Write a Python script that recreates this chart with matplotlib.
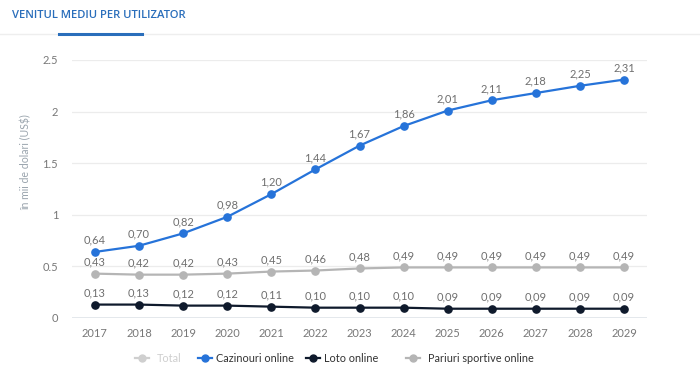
import matplotlib
matplotlib.use("Agg")
import matplotlib.pyplot as plt
from matplotlib.lines import Line2D

years = list(range(2017, 2030))
cazinouri = [0.64, 0.70, 0.82, 0.98, 1.20, 1.44, 1.67, 1.86, 2.01, 2.11, 2.18, 2.25, 2.31]
pariuri = [0.43, 0.42, 0.42, 0.43, 0.45, 0.46, 0.48, 0.49, 0.49, 0.49, 0.49, 0.49, 0.49]
loto = [0.13, 0.13, 0.12, 0.12, 0.11, 0.10, 0.10, 0.10, 0.09, 0.09, 0.09, 0.09, 0.09]
yticks = [0, 0.5, 1, 1.5, 2, 2.5]
ytick_labels = ["0", "0.5", "1", "1.5", "2", "2.5"]
legend_labels = ["Total", "Cazinouri online", "Loto online", "Pariuri sportive online"]

plt.rcParams['font.family'] = ['Lato', 'DejaVu Sans']

BLUE = "#2673d9"
NAVY = "#0f1a2c"
GRAY = "#b5b5b5"
LIGHT = "#cfcfcf"
TXT = "#6f6f6f"

W, H = 700, 380
fig = plt.figure(figsize=(7, 3.8), dpi=100)
ax = fig.add_axes([72 / W, 1 - 318 / H, (647 - 72) / W, (318 - 60) / H])
ax.set_xlim(2016.48, 2029.52)
ax.set_ylim(0, 2.5)

for s in ax.spines.values():
    s.set_visible(False)
for yv in yticks:
    ax.axhline(yv, color="#e2e6ea" if yv == 0 else "#ececec", lw=1.3 if yv == 0 else 0.9, zorder=0)

series = [(pariuri, GRAY), (loto, NAVY), (cazinouri, BLUE)]
for vals, col in series:
    ax.plot(years, vals, color=col, lw=1.6, marker="o", ms=5.2, zorder=3, clip_on=False)
    for x, v in zip(years, vals):
        ax.annotate(f"{v:.2f}".replace(".", ","), (x, v), xytext=(0, 8.5), textcoords="offset points",
                    ha="center", va="center", fontsize=8, color=TXT, zorder=5)

ax.set_xticks(years)
ax.set_xticklabels([str(y) for y in years])
ax.set_yticks(yticks)
ax.set_yticklabels(ytick_labels)
ax.tick_params(axis="both", length=0, labelsize=8, colors="#777777")
ax.tick_params(axis="x", pad=7)
ax.tick_params(axis="y", pad=10)
ax.set_ylabel("în mii de dolari (US$)", fontsize=7.6, color="#9aa4ad")
ax.yaxis.set_label_coords(-(72 - 32) / (647 - 72), (318 - 162) / (318 - 60))

# Title and header line
fig.text(12 / W, 1 - 16 / H, "VENITUL MEDIU PER UTILIZATOR", fontsize=8.1, fontweight="semibold",
         color="#2a6ebb", ha="left", va="center", family=["Open Sans", "DejaVu Sans"])
fig.add_artist(Line2D([0, 1], [1 - 34 / H, 1 - 34 / H], color="#eeeeee", lw=1, transform=fig.transFigure))
fig.add_artist(Line2D([59 / W, 142 / W], [1 - 33.5 / H, 1 - 33.5 / H], color="#2a6ebb", lw=2.2,
                      transform=fig.transFigure))

# Legend
leg_colors = [LIGHT, BLUE, NAVY, GRAY]
leg_marker_x = [142, 205, 313, 413]
leg_text_x = [157, 216, 324, 428]
ly = 1 - 358 / H
for lab, col, mx, tx in zip(legend_labels, leg_colors, leg_marker_x, leg_text_x):
    fig.add_artist(Line2D([(mx - 7) / W, (mx + 7) / W], [ly, ly], color=col, lw=1.6,
                          transform=fig.transFigure))
    fig.add_artist(Line2D([mx / W], [ly], color=col, marker="o", ms=5, lw=0,
                          transform=fig.transFigure))
    fig.text(tx / W, ly, lab, fontsize=7.8, color=LIGHT if lab == "Total" else "#333333",
             ha="left", va="center")

fig.savefig("out.png", dpi=100, facecolor="white")
